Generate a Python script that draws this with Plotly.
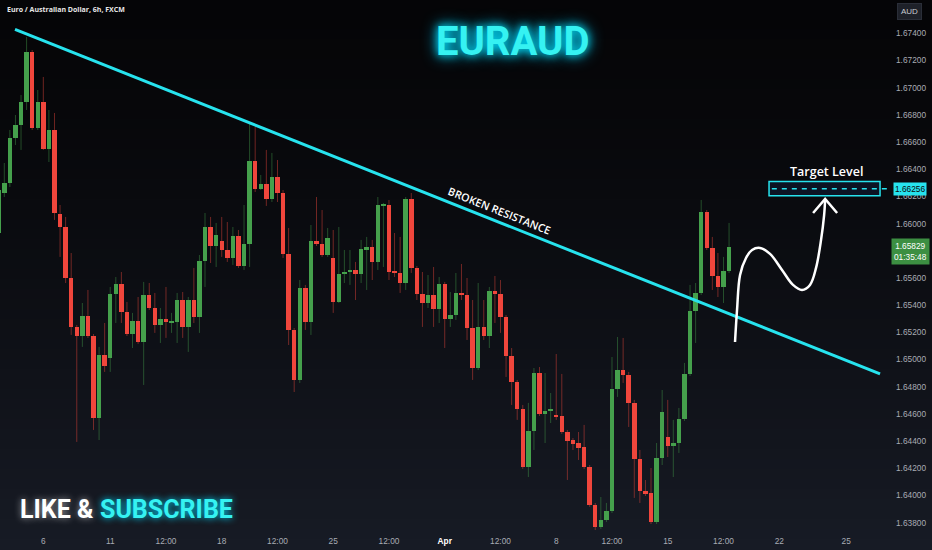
import plotly.graph_objects as go

# ---------------- data (EURAUD, 6h candles) ----------------
opens = [1.65931,1.66225,1.66299,1.66630,1.66726,1.66895,1.67263,1.66703,1.66895,1.66549,
         1.66689,1.66071,1.65975,1.65600,1.65240,1.65173,1.65321,1.65173,1.64570,1.65034,
         1.65012,1.65482,1.65556,1.65350,1.65188,1.65284,1.65129,1.65475,1.65379,1.65254,
         1.65298,1.65272,1.65276,1.65438,1.65240,1.65438,1.65313,1.65725,1.65975,1.65835,
         1.65872,1.65806,1.65747,1.65909,1.65688,1.65850,1.66461,1.66255,1.66291,1.66181,
         1.66343,1.66225,1.65777,1.65218,1.64850,1.65526,1.65276,1.65872,1.65850,1.65769,
         1.65747,1.65424,1.65633,1.65644,1.65659,1.65630,1.65806,1.65828,1.65718,1.66133,
         1.66137,1.65652,1.65637,1.65563,1.66181,1.65674,1.65482,1.65416,1.65475,1.65372,
         1.65556,1.65298,1.65328,1.65490,1.65475,1.65232,1.64938,1.65240,1.65173,1.65504,
         1.65482,1.65313,1.65026,1.64835,1.64636,1.64210,1.64475,1.64901,1.64600,1.64625,
         1.64592,1.64585,1.64467,1.64408,1.64386,1.64357,1.64210,1.63930,1.63768,1.63820,
         1.63886,1.64784,1.64923,1.64887,1.64681,1.64269,1.64033,1.64018,1.63805,1.64276,
         1.64430,1.64364,1.64386,1.64563,1.64894,1.65357,1.65490,1.66086,1.65821,1.65615,
         1.65534,1.65652]
highs = [1.66284,1.66446,1.66689,1.66799,1.66946,1.67373,1.67277,1.66983,1.67079,1.66836,
         1.66814,1.66137,1.66049,1.65784,1.65254,1.65416,1.65512,1.65188,1.65093,1.65269,
         1.65534,1.65607,1.65644,1.65424,1.65343,1.65460,1.65571,1.65563,1.65490,1.65379,
         1.65534,1.65343,1.65490,1.65497,1.65460,1.65674,1.65769,1.66078,1.66049,1.66005,
         1.66049,1.66012,1.65975,1.65953,1.66137,1.66740,1.66711,1.66358,1.66542,1.66520,
         1.66468,1.66247,1.65968,1.65232,1.65585,1.65549,1.65990,1.66196,1.66100,1.65968,
         1.65953,1.65975,1.65806,1.65806,1.65718,1.65880,1.65902,1.65880,1.66196,1.66152,
         1.66174,1.65931,1.65902,1.66196,1.66225,1.65688,1.65644,1.65622,1.65681,1.65607,
         1.65571,1.65497,1.65637,1.65703,1.65600,1.65438,1.65563,1.65438,1.65534,1.65615,
         1.65585,1.65328,1.65085,1.64850,1.64666,1.64681,1.64938,1.64945,1.64901,1.64754,
         1.65041,1.64894,1.64482,1.64423,1.64467,1.64519,1.64224,1.63945,1.63989,1.63945,
         1.65019,1.65166,1.65159,1.64909,1.64703,1.64335,1.64114,1.64202,1.64386,1.64776,
         1.64703,1.64556,1.64644,1.64975,1.65549,1.65563,1.66174,1.66100,1.65902,1.65784,
         1.65755,1.66005]
lows = [1.65880,1.66196,1.66269,1.66578,1.66542,1.66836,1.66689,1.66689,1.66542,1.66453,
        1.66027,1.65755,1.65563,1.65181,1.64394,1.65093,1.65159,1.64482,1.64408,1.64909,
        1.64909,1.65269,1.65269,1.65173,1.65085,1.65115,1.64813,1.65365,1.65196,1.65122,
        1.65159,1.65196,1.65122,1.65159,1.65056,1.65269,1.65196,1.65534,1.65710,1.65681,
        1.65755,1.65718,1.65696,1.65674,1.65659,1.65681,1.66233,1.66247,1.66130,1.66159,
        1.66159,1.65747,1.65107,1.64761,1.64828,1.65218,1.65181,1.65835,1.65755,1.65755,
        1.65343,1.65416,1.65563,1.65549,1.65438,1.65563,1.65512,1.65585,1.65659,1.65681,
        1.65585,1.65607,1.65490,1.65512,1.65637,1.65438,1.65240,1.65379,1.65240,1.65269,
        1.65085,1.65240,1.65291,1.65438,1.65144,1.64850,1.64923,1.65144,1.65085,1.65269,
        1.65196,1.64872,1.64666,1.64556,1.64195,1.64136,1.64335,1.64585,1.64386,1.64533,
        1.64556,1.64453,1.64114,1.64335,1.64261,1.64195,1.63916,1.63746,1.63754,1.63805,
        1.63871,1.64725,1.64828,1.64504,1.63982,1.63945,1.63996,1.63790,1.63790,1.64224,
        1.64283,1.64136,1.64313,1.64548,1.64879,1.65122,1.65475,1.65806,1.65512,1.65460,
        1.65416,1.65637]
closes = [1.66247,1.66299,1.66630,1.66726,1.66895,1.67263,1.66703,1.66895,1.66549,1.66689,
          1.66078,1.65975,1.65600,1.65240,1.65173,1.65321,1.65173,1.64570,1.65034,1.64953,
          1.65482,1.65556,1.65350,1.65188,1.65284,1.65129,1.65475,1.65379,1.65254,1.65298,
          1.65276,1.65280,1.65438,1.65240,1.65438,1.65313,1.65725,1.65975,1.65835,1.65916,
          1.65806,1.65747,1.65909,1.65688,1.65850,1.66461,1.66255,1.66291,1.66181,1.66343,
          1.66225,1.65777,1.65218,1.64850,1.65526,1.65276,1.65872,1.65850,1.65769,1.65894,
          1.65424,1.65630,1.65641,1.65652,1.65630,1.65813,1.65828,1.65718,1.66137,1.66141,
          1.65644,1.65637,1.65563,1.66181,1.65674,1.65482,1.65416,1.65475,1.65372,1.65556,
          1.65298,1.65328,1.65490,1.65475,1.65232,1.64938,1.65240,1.65173,1.65504,1.65482,
          1.65313,1.65026,1.64835,1.64636,1.64210,1.64475,1.64901,1.64600,1.64622,1.64633,
          1.64578,1.64467,1.64401,1.64379,1.64350,1.64210,1.63930,1.63768,1.63820,1.63886,
          1.64784,1.64923,1.64887,1.64681,1.64269,1.64033,1.64011,1.63805,1.64276,1.64614,
          1.64364,1.64386,1.64563,1.64894,1.65357,1.65490,1.66086,1.65821,1.65615,1.65534,
          1.65652,1.65829]
candle_idx = list(range(len(opens)))

xtick_vals = [8, 20, 30, 40, 50, 60, 70, 80, 90, 100, 110, 120, 130, 140, 152]
xtick_text = ["6", "11", "12:00", "18", "12:00", "25", "12:00",
              '<span style="color:#ffffff"><b>Apr</b></span>',
              "12:00", "8", "12:00", "15", "12:00", "22", "25"]
# 1.65800 is hidden behind the live-price label in the reference
ytick_vals = [1.638, 1.640, 1.642, 1.644, 1.646, 1.648, 1.650, 1.652, 1.654, 1.656,
              1.660, 1.662, 1.664, 1.666, 1.668, 1.670, 1.672, 1.674]

trend_x = [2.92, 158.08]
trend_y = [1.67429, 1.64894]

target_price = 1.66256
target_box_x = [138.17, 158.08]
target_box_y = [1.66205, 1.66310]
last_price = 1.65829
countdown = "01:35:48"

curve_x = [132.07, 132.43, 132.97, 134.04, 135.12, 136.55, 138.35, 140.5, 142.47,
           144.09, 145.52, 146.6, 147.5, 148.05, 148.23]
curve_y = [1.65129, 1.65365, 1.65622, 1.65747, 1.65806, 1.65821, 1.65777, 1.65659,
           1.65549, 1.65512, 1.65549, 1.65674, 1.65880, 1.66063, 1.66174]
head_x = [146.07, 148.23, 150.38]
head_y = [1.66078, 1.66181, 1.66078]

XR = [0.229, 158.97]
YR = [1.63746, 1.67645]

UP = "#45a04c"
DOWN = "#f0463c"
UP_W = "rgba(69,160,76,0.45)"
DOWN_W = "rgba(240,70,60,0.45)"
CYAN = "#27e3ee"

fig = go.Figure()

# wicks (drawn outside the body so they never overlap it)
wx = {True: [], False: []}
wy = {True: [], False: []}
for i, o, h, l, c in zip(candle_idx, opens, highs, lows, closes):
    up = c >= o
    top, bot = max(o, c), min(o, c)
    wx[up] += [i, i, None, i, i, None]
    wy[up] += [h, top, None, bot, l, None]
for up, col in ((True, UP_W), (False, DOWN_W)):
    fig.add_trace(go.Scatter(x=wx[up], y=wy[up], mode="lines",
                             line=dict(color=col, width=1), hoverinfo="skip",
                             showlegend=False))

# bodies
MINH = 0.00008
for up, col in ((True, UP), (False, DOWN)):
    xs, hs, bs = [], [], []
    for i, o, c in zip(candle_idx, opens, closes):
        if (c >= o) == up:
            xs.append(i)
            hs.append(max(abs(c - o), MINH))
            bs.append(min(o, c))
    fig.add_trace(go.Bar(x=xs, y=hs, base=bs, width=0.8, marker_color=col,
                         marker_line_width=0, showlegend=False, hoverinfo="skip"))

# trend line
fig.add_trace(go.Scatter(x=trend_x, y=trend_y, mode="lines",
                         line=dict(color=CYAN, width=3), showlegend=False,
                         hoverinfo="skip"))

# white projection arrow
fig.add_trace(go.Scatter(x=curve_x, y=curve_y, mode="lines",
                         line=dict(color="white", width=2.5, shape="spline", smoothing=1.0),
                         showlegend=False, hoverinfo="skip"))
fig.add_trace(go.Scatter(x=head_x, y=head_y, mode="lines",
                         line=dict(color="white", width=2.5), showlegend=False,
                         hoverinfo="skip"))

shapes = []
# vertical background gradient
N = 55
top_c = (5, 5, 7)
bot_c = (23, 27, 37)
for k in range(N):
    t0 = k / N
    t1 = (k + 1) / N
    t = ((t0 + t1) / 2) ** 1.4
    col = "rgb(%d,%d,%d)" % tuple(round(a + (b - a) * t) for a, b in zip(top_c, bot_c))
    y_top = 1 - (550 * t0) / 530
    y_bot = 1 - (550 * t1) / 530
    shapes.append(dict(type="rect", xref="paper", yref="paper", x0=-0.01, x1=1.07,
                       y0=y_bot - 0.002, y1=y_top + 0.002, fillcolor=col,
                       line=dict(width=0), layer="below"))

# target box and dashed level
shapes.append(dict(type="rect", xref="x", yref="y", x0=target_box_x[0], x1=target_box_x[1],
                   y0=target_box_y[0], y1=target_box_y[1], fillcolor="#0c1424",
                   line=dict(color=CYAN, width=1.5), layer="above"))
ty_paper = (target_price - YR[0]) / (YR[1] - YR[0])
x_box0 = (target_box_x[0] + 0.5 - XR[0]) / (XR[1] - XR[0])
shapes.append(dict(type="line", xref="paper", yref="paper", x0=x_box0, x1=891 / 885,
                   y0=ty_paper, y1=ty_paper,
                   line=dict(color=CYAN, width=1.5, dash="5px,5px"), layer="above"))

annotations = [
    dict(text="<b>Euro / Australian Dollar, 6h, FXCM</b>", xref="paper", yref="paper",
         x=5 / 885, y=1 - 10 / 530, xanchor="left", yanchor="middle", showarrow=False,
         font=dict(family="Open Sans", size=7.0, color="#e8e8e8")),
    dict(text="AUD", xref="paper", yref="paper", x=909 / 885, y=1 - 12 / 530,
         xanchor="center", yanchor="middle", showarrow=False,
         font=dict(family="Liberation Sans", size=8, color="#c8cbd2"),
         bgcolor="#1e2129", bordercolor="#2a2e38", borderwidth=1, borderpad=3),
    dict(text="EURAUD", xref="paper", yref="paper", x=512 / 885, y=1 - 42 / 530,
         xanchor="center", yanchor="middle", showarrow=False,
         font=dict(family="Roboto", size=40, color="#35f2f2", weight=700,
                   shadow="0px 0px 8px #00e8ff, 0px 0px 16px #00c8ff")),
    dict(text="LIKE &", xref="paper", yref="paper", x=18 / 885, y=1 - 509 / 530,
         xanchor="left", yanchor="middle", showarrow=False,
         font=dict(family="Roboto", size=25, color="#ffffff", weight=700,
                   shadow="0px 0px 7px rgba(255,255,255,0.55)")),
    dict(text="SUBSCRIBE", xref="paper", yref="paper", x=98 / 885, y=1 - 509 / 530,
         xanchor="left", yanchor="middle", showarrow=False,
         font=dict(family="Roboto", size=25, color="#35f2f2", weight=700,
                   shadow="0px 0px 7px #00d8ff")),
    dict(text="BROKEN RESISTANCE", xref="x", yref="y", x=89.9, y=1.66100,
         textangle=21.7, showarrow=False,
         font=dict(family="Open Sans", size=10.8, color="#ffffff", weight=600)),
    dict(text="Target Level", xref="x", yref="y", x=148.4, y=1.66380,
         showarrow=False,
         font=dict(family="Open Sans", size=12.5, color="#ffffff", weight=600)),
    dict(text="%.5f" % target_price, xref="paper", yref="y", x=910 / 885, y=target_price,
         xanchor="center", yanchor="middle", showarrow=False,
         font=dict(family="Liberation Sans", size=8.3, color="#0a0a0a"),
         bgcolor=CYAN, borderpad=1),
    dict(text="%.5f<br>%s" % (last_price, countdown), xref="paper", yref="y",
         x=911 / 885, y=last_price, yshift=-5, xanchor="center", yanchor="middle",
         showarrow=False, align="center",
         font=dict(family="Liberation Sans", size=8.3, color="#ffffff"),
         bgcolor="#3c8f42", borderpad=2),
]

fig.update_layout(
    width=932, height=550,
    margin=dict(l=0, r=47, t=0, b=20),
    paper_bgcolor="#0e1016", plot_bgcolor="rgba(0,0,0,0)",
    barmode="overlay", bargap=0,
    showlegend=False,
    shapes=shapes, annotations=annotations,
    xaxis=dict(range=XR, showgrid=False, zeroline=False, showline=False,
               tickmode="array", tickvals=xtick_vals, ticktext=xtick_text,
               ticks="", ticklabelstandoff=5,
               tickfont=dict(family="Liberation Sans", size=8.3, color="#a9acb4")),
    yaxis=dict(range=YR, side="right", showgrid=False, zeroline=False, showline=False,
               tickmode="array", tickvals=ytick_vals, tickformat=".5f",
               ticks="", ticklabelstandoff=10,
               tickfont=dict(family="Liberation Sans", size=8.3, color="#a9acb4")),
)

fig.write_html("out.html",
               config={"displayModeBar": False},
               post_script="document.body.style.margin='0';"
                           "document.body.style.background='#0e1016';")
